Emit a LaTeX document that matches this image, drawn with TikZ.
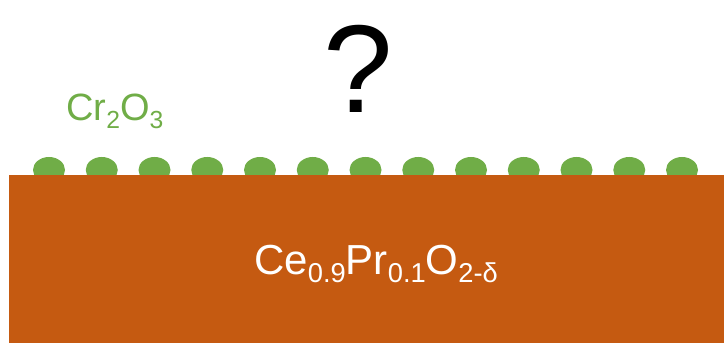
\documentclass[tikz,border=0pt]{standalone}
\usepackage{fontspec}
\setmainfont{Liberation Sans}
\definecolor{oxgreen}{HTML}{70AD47}
\definecolor{ceorange}{HTML}{C55A11}
\usetikzlibrary{positioning}
\tikzset{
  substrate/.style={fill=ceorange,draw=none},
  particle/.style={fill=oxgreen,draw=none},
  greenlab/.style={text=oxgreen,inner sep=0pt,font=\fontsize{38}{38}\selectfont},
  whitelab/.style={text=white,inner sep=0pt,font=\fontsize{42}{42}\selectfont},
  bigq/.style={text=black,inner sep=0pt,font=\fontsize{125}{125}\selectfont},
}
\newcommand{\lowsub}[1]{\raisebox{-0.19em}{\scalebox{0.65}{#1}}}
\begin{document}
\begin{tikzpicture}[x=1pt,y=1pt]
        \useasboundingbox (0,0) rectangle (724,343);
        % Cr2O3 Partikel
        \foreach \i in {0,...,12}
          \fill[particle] ({49+52.75*\i},173) ellipse [x radius=16,y radius=13];
        % Substrat
        \fill[substrate] (9,0) rectangle (724,168);
        % Beschriftungen
        \node[greenlab,anchor=base west] (crlab) at (66,222) {Cr\lowsub{2}O\lowsub{3}};
        \node[whitelab,anchor=base west] (celab) at (254,68) {Ce\lowsub{0.9}Pr\lowsub{0.1}O\lowsub{2-δ}};
        \node[bigq,anchor=base] (qmark) at (358,230) {?};
      \end{tikzpicture}
\end{document}
